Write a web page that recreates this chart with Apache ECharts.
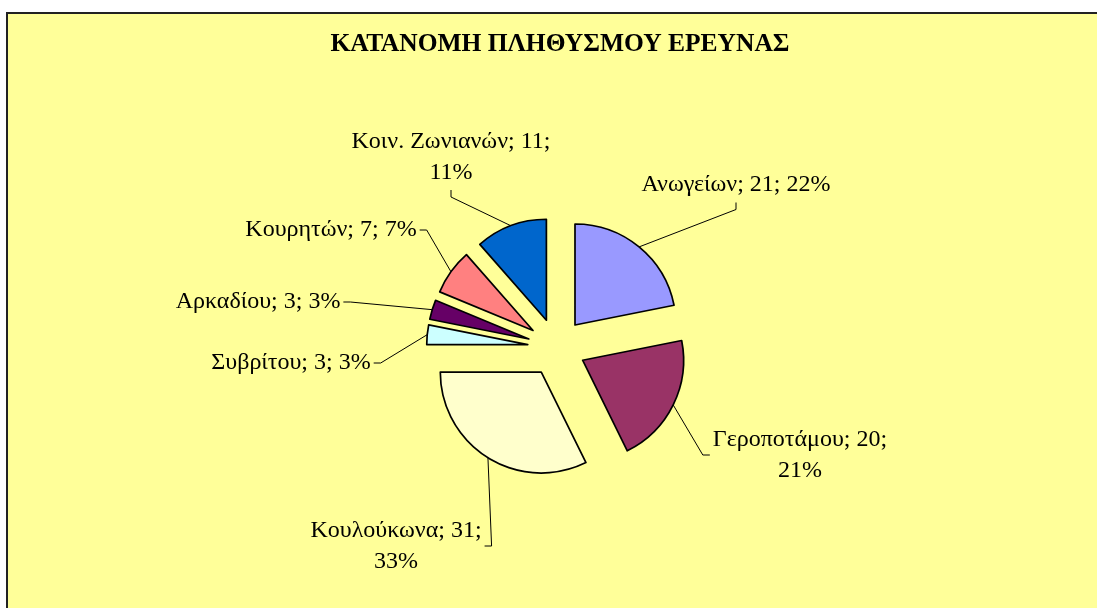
<!DOCTYPE html>
<html>
<head>
<meta charset="utf-8">
<script src="https://cdn.jsdelivr.net/npm/echarts@6/dist/echarts.min.js"></script>
<style>
  html, body { margin: 0; padding: 0; background: #fff; }
  #chart { width: 1097px; height: 608px; }
</style>
</head>
<body>
<div id="chart"></div>
<script>
const names = ["Ανωγείων", "Γεροποτάμου", "Κουλούκωνα", "Συβρίτου", "Αρκαδίου", "Κουρητών", "Κοιν. Ζωνιανών"];
const values = [21, 20, 31, 3, 3, 7, 11];
const percents = ["22%", "21%", "33%", "3%", "3%", "7%", "11%"];
const colors = ["#9999FF", "#993366", "#FFFFCC", "#CCFFFF", "#660066", "#FF8080", "#0066CC"];
// labels that Excel wrapped onto two lines
const wrapped = ["Γεροποτάμου", "Κουλούκωνα", "Κοιν. Ζωνιανών"];

// label centres (px) and the side the leader line joins
const labelAt = [[736, 185], [800, 455], [396, 546], [291, 363], [258, 302], [331, 230], [451, 157]];
const anchorSide = ["bottom", "left", "right", "right", "right", "right", "bottom"];

const cx = 556.6, cy = 347.4, radius = 101, explode = 29, tick = 7;
const total = values.reduce((a, b) => a + b, 0);

// each slice is its own pie, shifted out along its bisector (exploded pie)
let acc = 0;
const series = values.map((v, i) => {
  const mid = ((acc + v / 2) / total) * Math.PI * 2;
  acc += v;
  const edge = [cx + (explode + radius) * Math.sin(mid), cy - (explode + radius) * Math.cos(mid)];
  return {
    type: "pie",
    center: [cx + explode * Math.sin(mid), cy - explode * Math.cos(mid)],
    radius: radius,
    startAngle: 90,
    clockwise: true,
    silent: true,
    avoidLabelOverlap: false,
    data: values.map((val, j) => ({
      value: val,
      name: names[j],
      itemStyle: j === i
        ? { color: colors[j], borderColor: "#000", borderWidth: 1.7 }
        : { color: "rgba(0,0,0,0)", borderWidth: 0 },
      label: { show: j === i },
      labelLine: { show: j === i }
    })),
    label: {
      position: "outside",
      fontFamily: "Liberation Serif",
      fontSize: 24,
      lineHeight: 31,
      padding: [2, 3],
      color: "#000",
      formatter: p =>
        p.name + "; " + p.value + ";" + (wrapped.includes(p.name) ? "\n" : " ") + percents[p.dataIndex]
    },
    labelLine: {
      length: 10,
      length2: 6,
      lineStyle: { color: "#000", width: 1 }
    },
    labelLayout: params => {
      const [x, y] = labelAt[i];
      const w = params.labelRect.width, h = params.labelRect.height;
      let anchor, end;
      switch (anchorSide[i]) {
        case "bottom": anchor = [x, y + h / 2]; end = [x, y + h / 2 + tick]; break;
        case "top": anchor = [x, y - h / 2]; end = [x, y - h / 2 - tick]; break;
        case "left": anchor = [x - w / 2, y]; end = [x - w / 2 - tick, y]; break;
        default: anchor = [x + w / 2, y]; end = [x + w / 2 + tick, y];
      }
      return {
        x: x,
        y: y,
        align: "center",
        verticalAlign: "middle",
        labelLinePoints: [edge, end, anchor]
      };
    }
  };
});

const chart = echarts.init(document.getElementById("chart"));
chart.setOption({
  animation: false,
  graphic: [
    {
      type: "rect",
      z: -10,
      silent: true,
      shape: { x: 7, y: 13, width: 1200, height: 700 },
      style: { fill: "#FFFF99", stroke: "#222", lineWidth: 2 }
    },
    {
      type: "text",
      x: 560,
      y: 44,
      silent: true,
      style: {
        text: "ΚΑΤΑΝΟΜΗ ΠΛΗΘΥΣΜΟΥ ΕΡΕΥΝΑΣ",
        fontFamily: "Liberation Serif",
        fontWeight: "bold",
        fontSize: 25.5,
        fill: "#000",
        align: "center",
        verticalAlign: "middle"
      }
    }
  ],
  series: series
});
</script>
</body>
</html>
